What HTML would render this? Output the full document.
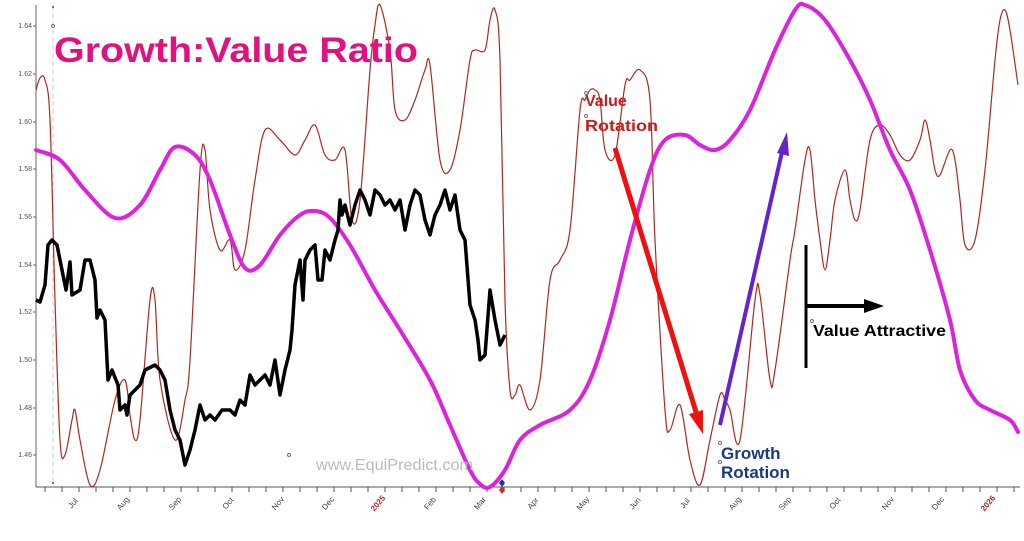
<!DOCTYPE html>
<html><head><meta charset="utf-8"><style>
html,body{margin:0;padding:0;background:#fff;}
svg{display:block;font-family:"Liberation Sans",sans-serif;}
</style></head><body>
<svg id="s" width="1024" height="541" viewBox="0 0 1024 541" xmlns="http://www.w3.org/2000/svg">
<rect width="1024" height="541" fill="#fff"/>
<line x1="36" y1="5" x2="36" y2="487" stroke="#666" stroke-width="1"/>
<line x1="36" y1="487" x2="1020" y2="487" stroke="#555" stroke-width="1"/>
<line x1="53" y1="5" x2="53" y2="487" stroke="#ccc" stroke-width="1" stroke-dasharray="5,3"/>
<circle cx="53" cy="26" r="1.5" fill="none" stroke="#777"/>
<g font-size="7" fill="#555" text-anchor="end">
<text x="32" y="28">1.64</text><text x="32" y="76">1.62</text><text x="32" y="124">1.60</text>
<text x="32" y="171">1.58</text><text x="32" y="219">1.56</text><text x="32" y="267">1.54</text>
<text x="32" y="314">1.52</text><text x="32" y="362">1.50</text><text x="32" y="410">1.48</text>
<text x="32" y="457">1.46</text>
</g>
<g stroke="#666" stroke-width="1">
<line x1="33" y1="26" x2="36" y2="26"/><line x1="33" y1="74" x2="36" y2="74"/><line x1="33" y1="122" x2="36" y2="122"/>
<line x1="33" y1="169" x2="36" y2="169"/><line x1="33" y1="217" x2="36" y2="217"/><line x1="33" y1="265" x2="36" y2="265"/>
<line x1="33" y1="312" x2="36" y2="312"/><line x1="33" y1="360" x2="36" y2="360"/><line x1="33" y1="408" x2="36" y2="408"/>
<line x1="33" y1="455" x2="36" y2="455"/>
</g>
<g stroke="#555" stroke-width="1">
<path d="M45 487v5M62 487v5M79 487v5M96 487v5M113 487v5M130 487v5M147 487v5M164 487v5M181 487v5M198 487v5M215 487v5M232 487v5M249 487v5M266 487v5M283 487v5M300 487v5M317 487v5M334 487v5M351 487v5M368 487v5M385 487v5M402 487v5M419 487v5M436 487v5M453 487v5M470 487v5M487 487v5M504 487v5M521 487v5M538 487v5M555 487v5M572 487v5M589 487v5M606 487v5M623 487v5M640 487v5M657 487v5M674 487v5M691 487v5M708 487v5M725 487v5M742 487v5M759 487v5M776 487v5M793 487v5M810 487v5M827 487v5M844 487v5M861 487v5M878 487v5M895 487v5M912 487v5M929 487v5M946 487v5M963 487v5M980 487v5M997 487v5M1014 487v5"/>
</g>
<g font-size="8" fill="#444" text-anchor="middle">
<text transform="translate(75,505) rotate(-50)">Jul</text>
<text transform="translate(125,505) rotate(-50)">Aug</text>
<text transform="translate(177,505) rotate(-50)">Sep</text>
<text transform="translate(230,505) rotate(-50)">Oct</text>
<text transform="translate(280,505) rotate(-50)">Nov</text>
<text transform="translate(330,505) rotate(-50)">Dec</text>
<text transform="translate(380,505) rotate(-50)" fill="#b22" font-weight="bold">2025</text>
<text transform="translate(432,505) rotate(-50)">Feb</text>
<text transform="translate(482,505) rotate(-50)">Mar</text>
<text transform="translate(535,505) rotate(-50)">Apr</text>
<text transform="translate(585,505) rotate(-50)">May</text>
<text transform="translate(637,505) rotate(-50)">Jun</text>
<text transform="translate(687,505) rotate(-50)">Jul</text>
<text transform="translate(737,505) rotate(-50)">Aug</text>
<text transform="translate(787,505) rotate(-50)">Sep</text>
<text transform="translate(837,505) rotate(-50)">Oct</text>
<text transform="translate(890,505) rotate(-50)">Nov</text>
<text transform="translate(940,505) rotate(-50)">Dec</text>
<text transform="translate(990,505) rotate(-50)" fill="#b22" font-weight="bold">2026</text>
</g>
<polyline class="sm" fill="none" stroke="#b0281e" stroke-width="1.2" stroke-linejoin="round" points="36,90 40,78 45,80 50,120 55,300 60,440 65,455 72,420 75,410 80,440 90,485 100,470 115,400 125,380 130,415 135,440 140,420 150,300 155,300 160,380 175,440 185,400 190,360 200,170 205,150 210,210 220,250 230,240 235,270 245,250 255,180 265,130 280,140 295,155 305,140 315,125 325,155 335,160 345,150 352,220 360,200 370,70 375,25 380,5 390,50 395,110 405,120 415,100 425,70 430,65 440,160 450,170 460,130 470,60 475,50 485,50 490,20 495,10 500,60 505,300 510,390 515,395 520,385 530,410 540,380 550,280 560,260 570,230 580,110 585,100 590,90 595,90 600,100 605,150 615,155 625,85 630,80 640,70 650,100 655,240 665,410 670,430 680,405 690,460 700,485 710,440 720,395 725,400 730,410 740,440 755,300 760,295 770,380 775,370 790,260 795,230 805,160 810,150 815,200 820,240 825,270 830,240 835,200 845,170 850,200 855,220 860,210 870,140 880,125 890,135 900,155 910,160 920,140 925,120 930,140 935,170 940,175 950,150 955,160 960,200 965,245 975,240 985,170 995,60 1000,20 1005,10 1010,30 1018,85"/>
<polyline class="sm" fill="none" stroke="#dd22dd" stroke-width="4" stroke-linejoin="round" stroke-linecap="round" points="36,150 60,160 85,190 115,218 140,205 160,170 175,147 195,155 210,180 230,235 245,268 260,265 280,235 300,215 315,211 330,218 350,245 375,290 400,330 430,380 450,425 470,470 480,484 490,487 505,470 520,440 540,425 570,410 590,380 610,320 630,240 650,170 665,140 685,135 700,145 715,150 730,140 750,110 775,50 795,10 805,5 825,20 850,60 870,100 890,150 910,190 930,250 950,320 960,370 975,400 990,410 1010,420 1018,432"/>
<polyline fill="none" stroke="#000" stroke-width="3.5" stroke-linejoin="round" points="36,300 40,302 45,285 48,245 52,240 57,245 62,270 66,290 70,262 72,295 80,290 85,260 90,260 95,280 97,318 100,310 105,320 108,380 112,370 118,385 120,410 125,405 127,415 130,395 135,390 140,385 145,370 155,365 160,370 165,380 170,410 175,430 180,440 185,465 190,450 195,430 200,405 205,420 210,415 215,420 222,410 230,410 235,415 240,400 245,405 250,375 255,385 260,380 265,375 270,385 275,360 280,395 285,370 290,350 292,330 295,285 300,260 303,300 305,260 310,250 315,245 318,280 322,280 325,250 330,260 335,240 338,230 340,200 342,215 345,205 350,225 355,205 360,190 365,200 370,215 375,190 380,195 385,205 390,200 395,210 400,200 405,230 410,205 415,190 420,195 425,220 430,235 435,215 440,205 445,190 450,210 455,195 460,230 465,240 470,305 475,320 478,340 480,360 485,355 490,290 495,320 500,345 505,335"/>
<path d="M502 479l3 4-3 4-3-4z" fill="#1133bb"/>
<path d="M502 486l3 4-3 4-3-4z" fill="#cc3311"/>
<circle cx="53" cy="7" r="1" fill="#b22"/><circle cx="53" cy="483" r="1" fill="#b22"/>
<line x1="615" y1="148" x2="696" y2="412" stroke="#ee1111" stroke-width="5"/>
<path d="M703 434l-14-20 14-4z" fill="#ee1111"/>
<line x1="720" y1="425" x2="782" y2="152" stroke="#6622cc" stroke-width="4"/>
<path d="M787 132l2 24-12-3z" fill="#6622cc"/>
<line x1="806" y1="245" x2="806" y2="368" stroke="#000" stroke-width="3"/>
<line x1="806" y1="306" x2="866" y2="306" stroke="#000" stroke-width="4"/>
<path d="M884 306l-20-7v14z" fill="#000"/>
<text x="54" y="62" font-size="35" font-weight="bold" fill="#e0127f" textLength="364" lengthAdjust="spacingAndGlyphs">Growth:Value Ratio</text>
<g font-size="16" font-weight="bold" fill="#d01818"><text x="585" y="106">Value</text><text x="585" y="131" textLength="73" lengthAdjust="spacingAndGlyphs">Rotation</text></g>
<circle cx="586" cy="93" r="1.5" fill="none" stroke="#777"/><circle cx="586" cy="116" r="1.5" fill="none" stroke="#777"/>
<text x="813" y="336" font-size="16" font-weight="bold" fill="#000" textLength="133" lengthAdjust="spacingAndGlyphs">Value Attractive</text>
<circle cx="812" cy="321" r="1.5" fill="none" stroke="#777"/>
<g font-size="17" font-weight="bold" fill="#1a3a80"><text x="721" y="459">Growth</text><text x="721" y="478">Rotation</text></g>
<circle cx="720" cy="443" r="1.5" fill="none" stroke="#777"/><circle cx="720" cy="462" r="1.5" fill="none" stroke="#777"/>
<text x="316" y="470" font-size="16" fill="#bbb" textLength="157" lengthAdjust="spacingAndGlyphs">www.EquiPredict.com</text>
<circle cx="289" cy="455" r="1.5" fill="none" stroke="#777"/>
</svg>
<script>
document.querySelectorAll('polyline.sm').forEach(function(pl){
  var nums=pl.getAttribute('points').trim().split(/[\s,]+/).map(Number),p=[];
  for(var i=0;i<nums.length;i+=2)p.push([nums[i],nums[i+1]]);
  var d='M'+p[0][0]+' '+p[0][1];
  for(var i=0;i<p.length-1;i++){
    var p0=p[i-1]||p[i],p1=p[i],p2=p[i+1],p3=p[i+2]||p2;
    var c1x=p1[0]+(p2[0]-p0[0])/6,c1y=p1[1]+(p2[1]-p0[1])/6;
    var c2x=p2[0]-(p3[0]-p1[0])/6,c2y=p2[1]-(p3[1]-p1[1])/6;
    d+=' C'+c1x+' '+c1y+' '+c2x+' '+c2y+' '+p2[0]+' '+p2[1];
  }
  var path=document.createElementNS('http://www.w3.org/2000/svg','path');
  path.setAttribute('d',d);
  ['fill','stroke','stroke-width','stroke-linejoin','stroke-linecap'].forEach(function(a){if(pl.getAttribute(a))path.setAttribute(a,pl.getAttribute(a));});
  pl.parentNode.replaceChild(path,pl);
});
</script>
</body></html>
